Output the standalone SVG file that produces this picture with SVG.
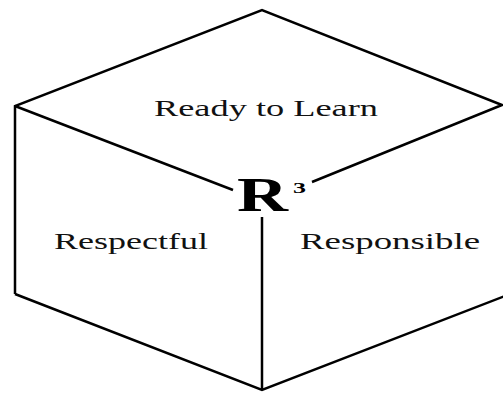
<svg xmlns="http://www.w3.org/2000/svg" width="503" height="393" viewBox="0 0 503 393">
<style>
.edge{fill:none;stroke:#000;stroke-width:2.5;stroke-linejoin:miter;stroke-linecap:butt}
.lbl{font-family:"Liberation Serif","Times New Roman",serif;font-size:24px;fill:#111}
.big{font-family:"Liberation Serif","Times New Roman",serif;font-weight:bold;font-size:49px;fill:#000}
.sup{font-family:"Liberation Serif","Times New Roman",serif;font-weight:bold;font-size:15px;fill:#000}
</style>
<rect width="503" height="393" fill="#fff"/>
<g id="connectors">
<polyline class="edge" points="15,294 15,106 262,10 502,105 312,182"/>
<line class="edge" x1="15" y1="106" x2="233" y2="190"/>
<polyline class="edge" points="15,294 262,390 505,296"/>
<line class="edge" x1="262" y1="217" x2="262" y2="390"/>
</g>
<g id="top-face">
<text class="lbl" x="154" y="116" textLength="224" lengthAdjust="spacingAndGlyphs">Ready to Learn</text>
</g>
<g id="left-face">
<text class="lbl" x="54" y="249" textLength="154" lengthAdjust="spacingAndGlyphs">Respectful</text>
</g>
<g id="right-face">
<text class="lbl" x="300" y="249" textLength="180" lengthAdjust="spacingAndGlyphs">Responsible</text>
</g>
<g id="center">
<text class="big" x="237" y="211" textLength="51" lengthAdjust="spacingAndGlyphs">R</text>
<text class="sup" x="293" y="193" textLength="13" lengthAdjust="spacingAndGlyphs">3</text>
</g>
</svg>
